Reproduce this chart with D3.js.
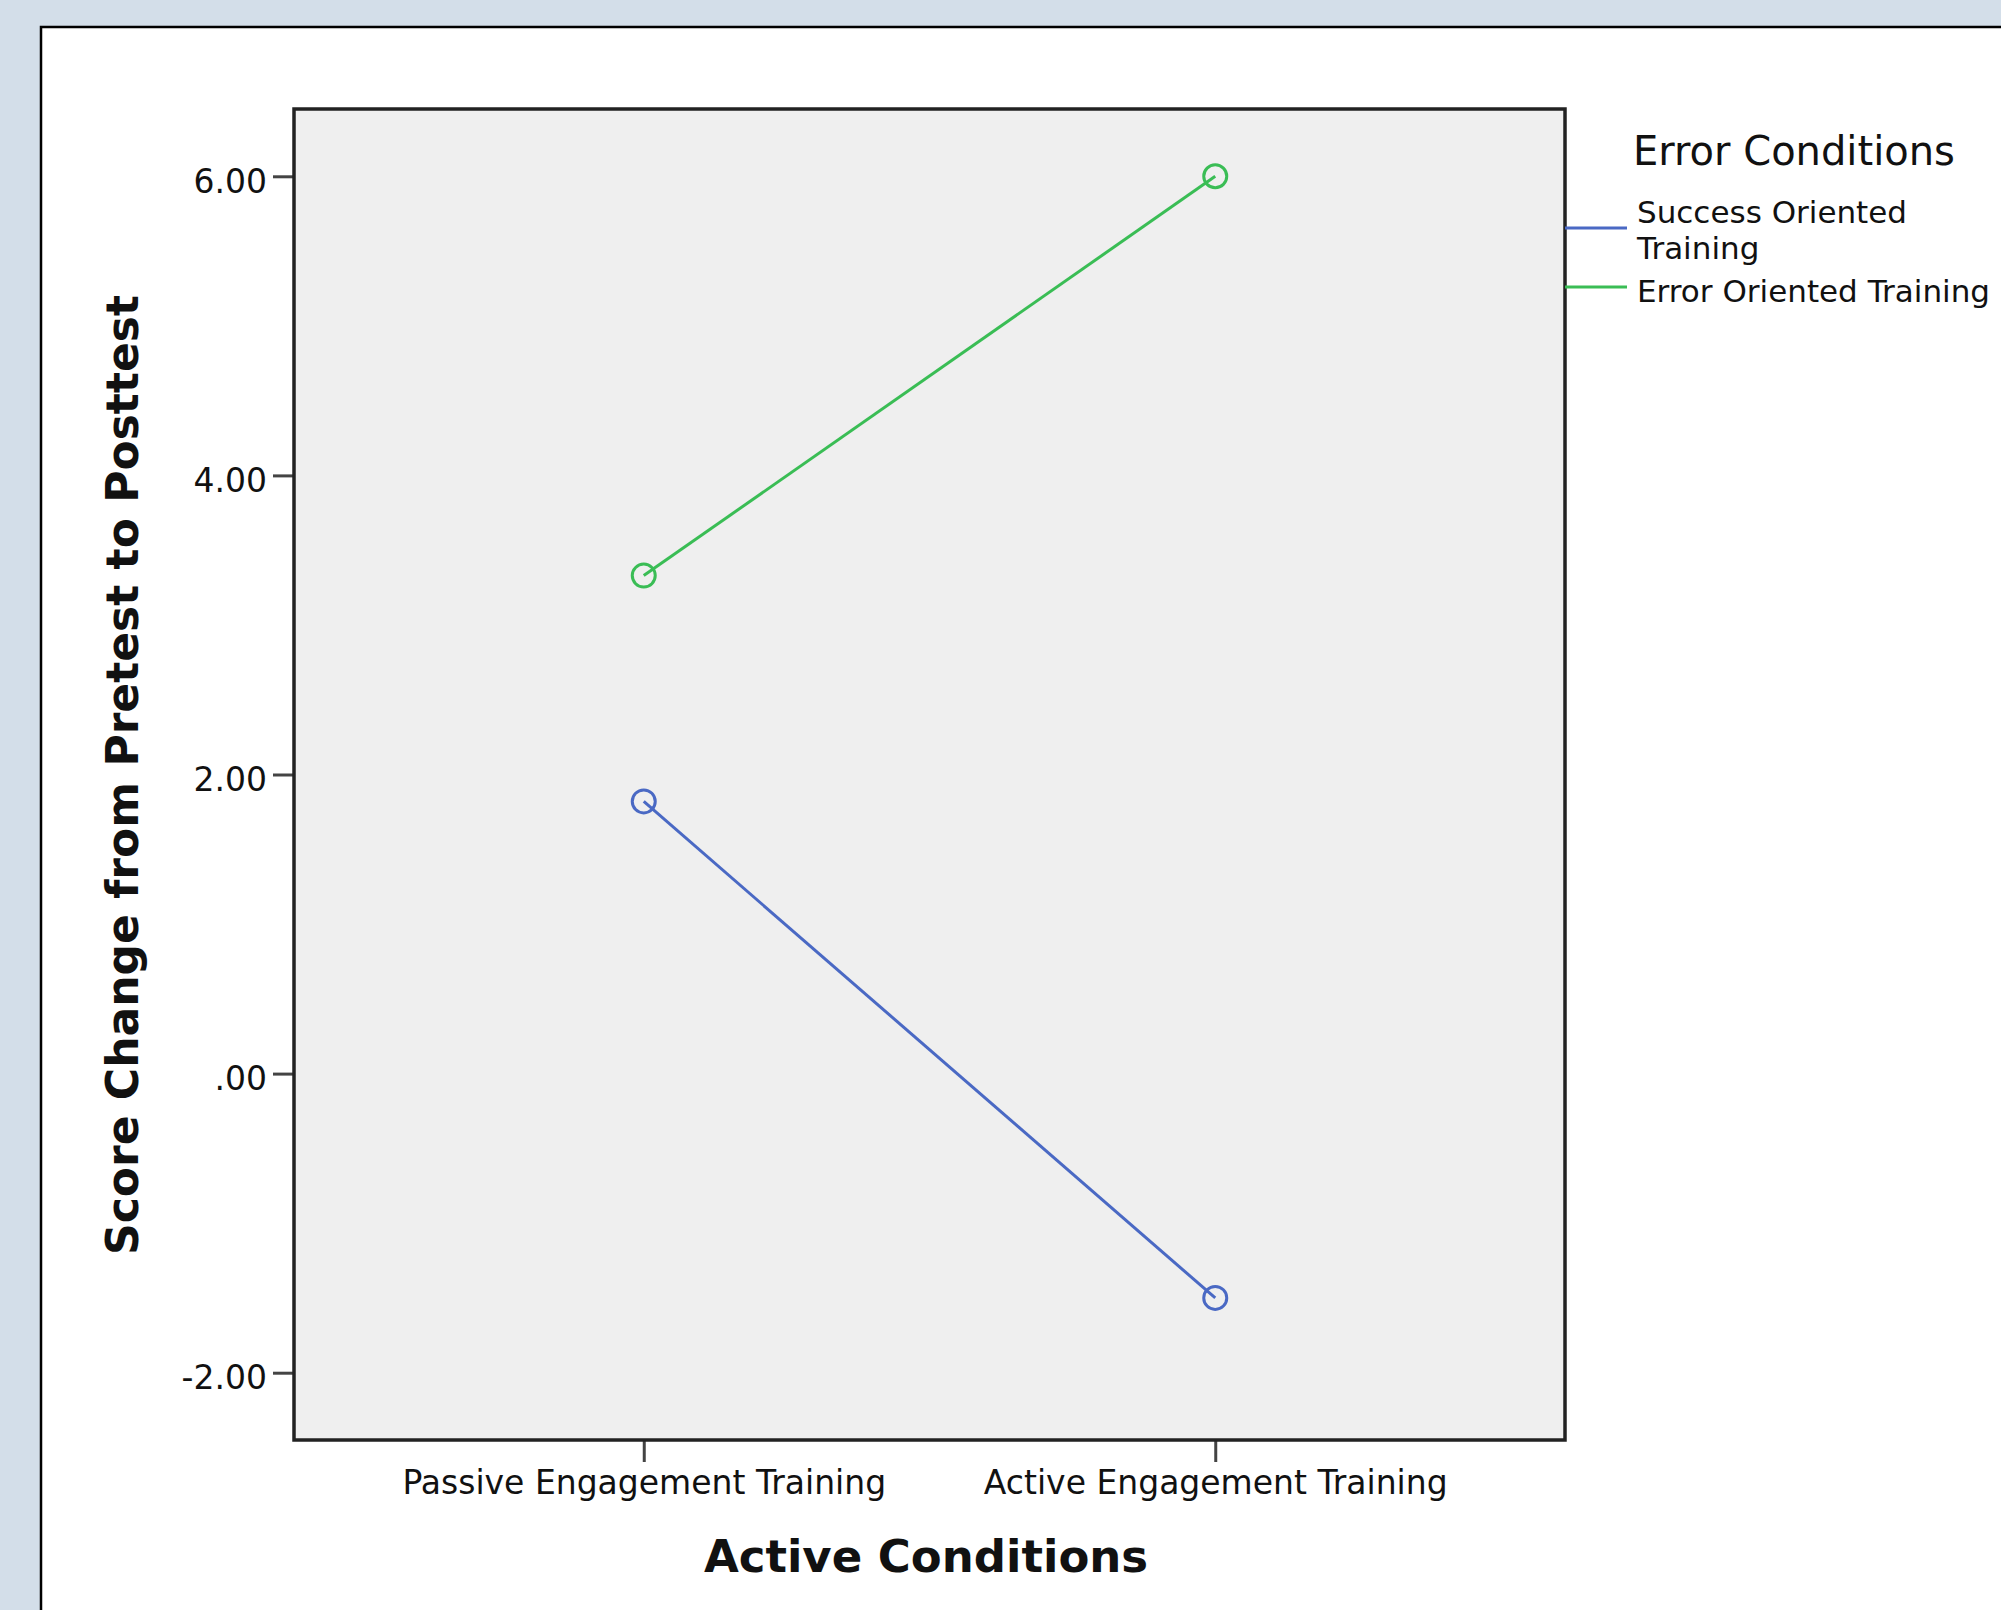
<!DOCTYPE html>
<html>
<head>
<meta charset="utf-8">
<script src="https://cdn.jsdelivr.net/npm/d3@7"></script>
<style>
  html, body { margin: 0; padding: 0; background: #d3dee9; }
  svg { display: block; }
  text { font-family: "DejaVu Sans", Verdana, sans-serif; fill: #111; }
</style>
</head>
<body>
<div id="chart"></div>
<script>
// categories on the x axis
const conditions = ['Passive Engagement Training', 'Active Engagement Training'];
// series (legend order)
const seriesNames = ['Success Oriented Training', 'Error Oriented Training'];
const successValues = [1.82, -1.50];
const errorValues = [3.33, 6.00];
const yTicks = [-2, 0, 2, 4, 6];
const yTickLabels = ['-2.00', '.00', '2.00', '4.00', '6.00'];
const colors = ['#4a69c4', '#3abd55'];

const W = 2001, H = 1610;
const margin = {top: 109, right: 436, bottom: 170, left: 294};
const width = W - margin.left - margin.right;
const height = H - margin.top - margin.bottom;

const svg = d3.select('#chart')
    .append('svg')
    .attr('width', W)
    .attr('height', H);

// white panel
svg.append('rect')
    .attr('x', 41).attr('y', 27)
    .attr('width', W).attr('height', H)
    .attr('fill', '#fff')
    .attr('stroke', '#000')
    .attr('stroke-width', 2.5);

const g = svg.append('g')
    .attr('transform', `translate(${margin.left}, ${margin.top})`);

g.append('rect')
    .attr('width', width).attr('height', height)
    .attr('fill', '#efefef');

const xScale = d3.scalePoint()
    .domain(conditions)
    .range([0, width])
    .padding(0.612);

const yScale = d3.scaleLinear()
    .domain([-2.45, 6.45])
    .range([height, 0]);

// axes
const yAxis = g.append('g')
    .call(d3.axisLeft(yScale)
        .tickValues(yTicks)
        .tickFormat((d, i) => yTickLabels[i])
        .tickSize(21)
        .tickPadding(6));
yAxis.select('.domain').remove();
yAxis.selectAll('.tick line').attr('stroke', '#444').attr('stroke-width', 3);
yAxis.selectAll('.tick text')
    .style('font-size', '33px')
    .attr('dy', '0.48em')
    .attr('fill', '#111');

const xAxis = g.append('g')
    .attr('transform', `translate(0, ${height})`)
    .call(d3.axisBottom(xScale)
        .tickSize(22)
        .tickPadding(9));
xAxis.select('.domain').remove();
xAxis.selectAll('.tick line').attr('stroke', '#444').attr('stroke-width', 3);
xAxis.selectAll('.tick text')
    .style('font-size', '33px')
    .attr('fill', '#111');

// plot frame
g.append('rect')
    .attr('width', width).attr('height', height)
    .attr('fill', 'none')
    .attr('stroke', '#222')
    .attr('stroke-width', 3.5);

// lines + markers
const series = [successValues, errorValues];
const line = d3.line()
    .x((d, i) => xScale(conditions[i]))
    .y(d => yScale(d));

series.forEach((vals, s) => {
    g.append('path')
        .datum(vals)
        .attr('d', line)
        .attr('fill', 'none')
        .attr('stroke', colors[s])
        .attr('stroke-width', 3);

    g.selectAll(null)
        .data(vals)
        .enter()
        .append('circle')
        .attr('cx', (d, i) => xScale(conditions[i]))
        .attr('cy', d => yScale(d))
        .attr('r', 11.5)
        .attr('fill', 'none')
        .attr('stroke', colors[s])
        .attr('stroke-width', 3);
});

// axis titles
svg.append('text')
    .attr('transform', `translate(138, 775) rotate(-90)`)
    .attr('text-anchor', 'middle')
    .style('font-size', '44px')
    .style('font-weight', 'bold')
    .text('Score Change from Pretest to Posttest');

svg.append('text')
    .attr('x', 926)
    .attr('y', 1572)
    .attr('text-anchor', 'middle')
    .style('font-size', '45px')
    .style('font-weight', 'bold')
    .text('Active Conditions');

// legend
const lx = margin.left + width;
svg.append('text')
    .attr('x', 1633).attr('y', 165)
    .style('font-size', '40px')
    .text('Error Conditions');

// legend line y positions and label lines
const legendLineY = [228, 287];
const legendLabelLines = [['Success Oriented', 'Training'], ['Error Oriented Training']];
const legendBaselines = [[223, 259], [302]];

seriesNames.forEach((name, s) => {
    svg.append('line')
        .attr('x1', lx).attr('x2', 1627)
        .attr('y1', legendLineY[s]).attr('y2', legendLineY[s])
        .attr('stroke', colors[s])
        .attr('stroke-width', 3);
    legendLabelLines[s].forEach((t, k) => {
        svg.append('text')
            .attr('x', 1637).attr('y', legendBaselines[s][k])
            .style('font-size', '31px')
            .text(t);
    });
});
</script>
</body>
</html>
